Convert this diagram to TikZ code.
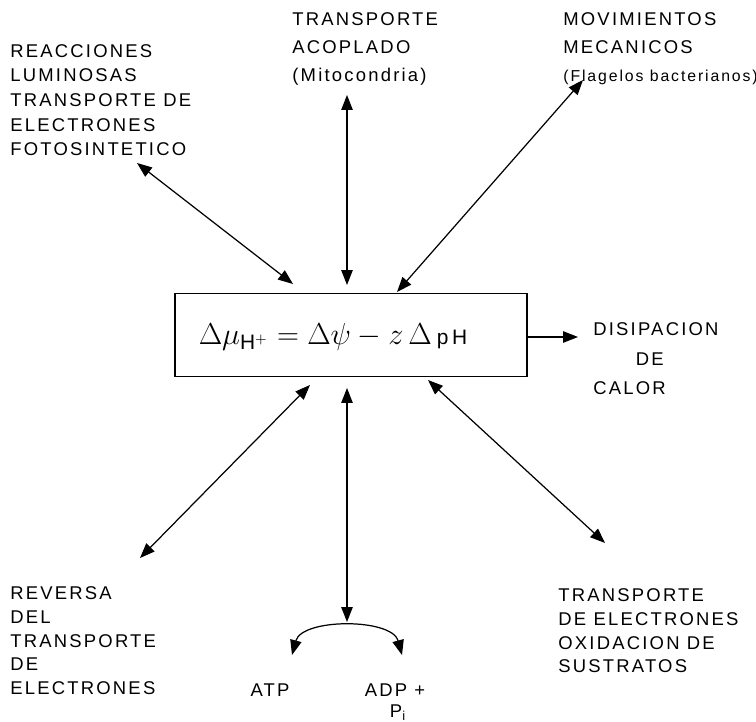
\documentclass[tikz,border=0pt]{standalone}
\usepackage{fontspec}
\setmainfont{Liberation Sans}[LetterSpace=12]
\usetikzlibrary{arrows.meta}
\begin{document}
\begin{tikzpicture}[x=0.02cm,y=-0.02cm,
  every node/.style={font=\fontsize{10.5}{14}\selectfont,inner sep=0pt},
  lbl/.style={align=left,anchor=north west},
  link/.style={{Triangle[length=8.5pt,width=6.5pt]}-{Triangle[length=8.5pt,width=6.5pt]},line width=0.7pt},
  onelink/.style={-{Triangle[length=8.5pt,width=6.5pt]},line width=0.7pt}]
\useasboundingbox (0,0) rectangle (756,722);
% central equation
\node[draw,line width=1pt,minimum width=7.04cm,minimum height=1.66cm] (eq) at (351,335) {};
\node[font=\fontsize{17}{20}\selectfont] (eqtext) at (333,337)
  {$\Delta\mu_{\mathrm{H}^{+}} = \Delta\psi - z\,\Delta\,{\scriptstyle\mathrm{p\,H}}$};
% labels
\node[lbl] (luz) at (10,44) {REACCIONES\\LUMINOSAS\\TRANSPORTE DE\\ELECTRONES\\FOTOSINTETICO};
\node[lbl] (acop) at (292,12) {TRANSPORTE\\[2pt]ACOPLADO\\[2pt](Mitocondria)};
\node[lbl] (mov) at (563,12) {MOVIMIENTOS\\[2pt]MECANICOS\\[2pt]\fontsize{9}{12}\selectfont(Flagelos bacterianos)};
\node[lbl,font=\fontsize{10.5}{17}\selectfont] (calor) at (593,322) {DISIPACION\\\hspace*{2.3em}DE\\CALOR};
\node[lbl,font=\fontsize{10.5}{13.6}\selectfont] (rev) at (10,586) {REVERSA\\DEL\\TRANSPORTE\\DE\\ELECTRONES};
\node[lbl,font=\fontsize{10.5}{13.6}\selectfont] (oxid) at (558,588) {TRANSPORTE\\DE ELECTRONES\\OXIDACION DE\\SUSTRATOS};
\node (atp) at (270,690) {ATP};
\node (adp) at (395,690) {ADP +};
\node (pi) at (398,713) {P\textsubscript{i}};
% free ends
\coordinate (luzend) at (137,163);
\coordinate (luzbox) at (293,284);
\coordinate (acopend) at (347,95);
\coordinate (acopbox) at (347,285);
\coordinate (movend) at (583,80);
\coordinate (movbox) at (397,292);
\coordinate (calend) at (578,337);
\coordinate (revbox) at (310,385);
\coordinate (revend) at (140,558);
\coordinate (atpbox) at (347,388);
\coordinate (arctop) at (347,622);
\coordinate (oxbox) at (428,380);
\coordinate (oxend) at (605,543);
\coordinate (atpend) at (292,655);
\coordinate (adpend) at (402,655);
% connectors
\draw[link] (luzend) -- (luzbox);
\draw[link] (acopend) -- (acopbox);
\draw[link] (movend) -- (movbox);
\draw[onelink] (eq.east |- calend) -- (calend);
\draw[link] (revbox) -- (revend);
\draw[link] (atpbox) -- (arctop);
\draw[link] (oxbox) -- (oxend);
% ATP arc
\draw[link] (atpend) .. controls (302,618) and (392,618) .. (adpend);
\end{tikzpicture}
\end{document}
